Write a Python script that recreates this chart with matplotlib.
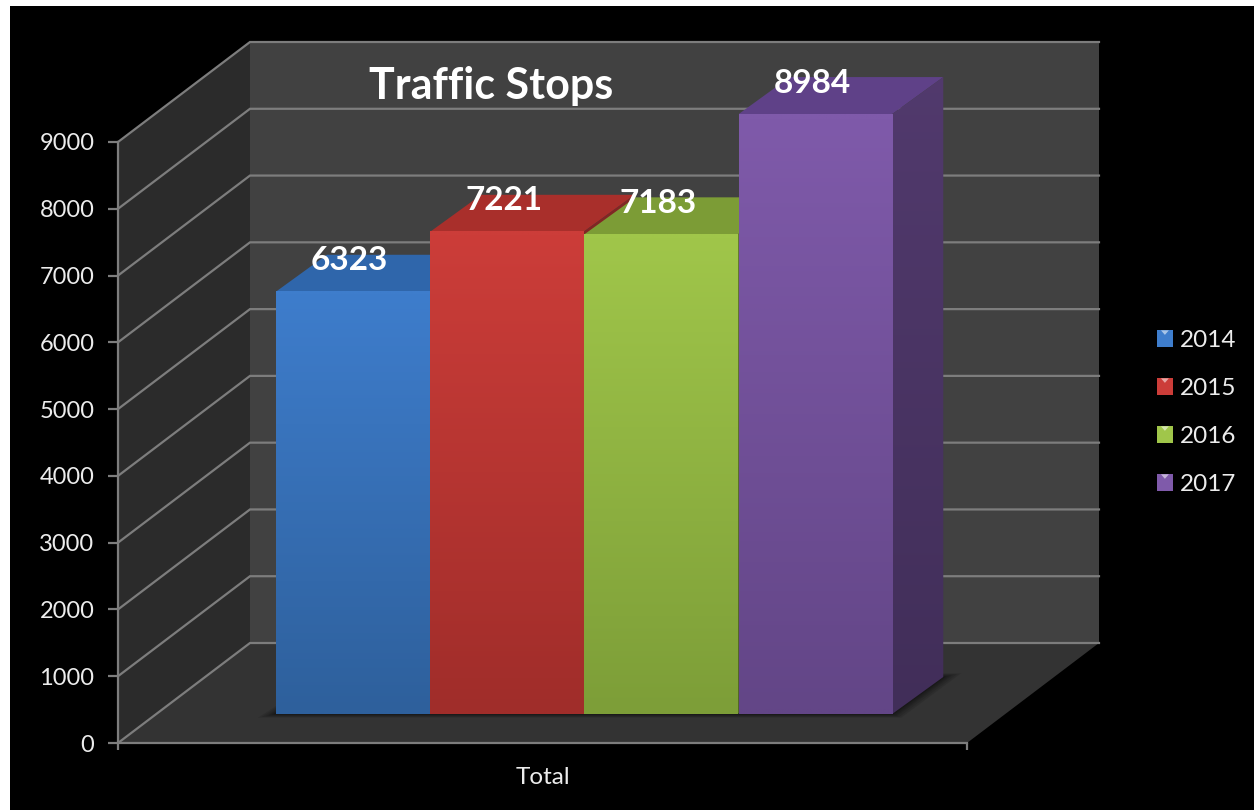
import numpy as np
import matplotlib
matplotlib.use("Agg")
import matplotlib.pyplot as plt
from matplotlib.patches import Polygon, Rectangle, Patch
from matplotlib.legend_handler import HandlerPatch

plt.rcParams['font.family'] = ['Lato', 'DejaVu Sans']

years = ['2014', '2015', '2016', '2017']
stops = [6323, 7221, 7183, 8984]
yticks = [0, 1000, 2000, 3000, 4000, 5000, 6000, 7000, 8000, 9000]
cat_label = 'Total'
title = 'Traffic Stops'

# front / bottom colours of each bar, then the top facet
col_top = ['#3e7dcc', '#cc3d39', '#a0c64a', '#7f5aaa']
col_bot = ['#2e609c', '#a02d2a', '#7d9e38', '#634687']
col_lid = ['#2f66ab', '#a92f2b', '#7c9c36', '#5f4188']

W, H = 1254, 810
L, R, B, T = 118, 967, 743, 142  # front plane, pixels
PX = 1 / 154.3              # x data units per pixel
PY = 9000 / (B - T)         # y data units per pixel
DX, DY = 132 * PX, 100 * PY   # chart depth
d0, d1 = 0.29, 0.66         # bar depth range
XMIN = -1.52
XMAX = XMIN + (R - L) * PX
lift = d0 * DY
bw = 153.5 * PX

wall_side = '#2b2b2b'
wall_back = '#414141'
floor_c = '#333333'
grid_c = '#7d7d7d'
text_c = '#ececec'

fig = plt.figure(figsize=(W / 100, H / 100), dpi=100, facecolor='white')
fig.patches.append(Rectangle((10 / W, 0), 1 - 10 / W, 1 - 6 / H, transform=fig.transFigure,
                             facecolor='black', edgecolor='none', zorder=-10))
ax = fig.add_axes([L / W, 1 - B / H, (R - L) / W, (B - T) / H])
ax.patch.set_visible(False)


def rgb(c):
    return np.array(matplotlib.colors.to_rgb(c))


def grad(c1, c2):
    return np.linspace(rgb(c1), rgb(c2), 64)[:, None, :]


def poly(pts, **kw):
    p = Polygon(pts, closed=True, clip_on=False, linewidth=0, **kw)
    ax.add_patch(p)
    return p


# walls and floor
ymax = yticks[-1]
poly([(XMIN, 0), (XMIN + DX, DY), (XMIN + DX, ymax + DY), (XMIN, ymax)], facecolor=wall_side, zorder=1)
poly([(XMIN + DX, DY), (XMAX + DX, DY), (XMAX + DX, ymax + DY), (XMIN + DX, ymax + DY)],
     facecolor=wall_back, zorder=1)
poly([(XMIN, 0), (XMAX, 0), (XMAX + DX, DY), (XMIN + DX, DY)], facecolor=floor_c, zorder=1)

for v in yticks:
    ax.plot([XMIN, XMIN + DX, XMAX + DX], [v, v + DY, v + DY], color=grid_c, lw=1.6,
            clip_on=False, zorder=2, solid_joinstyle='miter')

# soft shadow under the bars
fx0, fx1 = 0 - bw / 2, 3 + bw / 2
sx, sy = 0.387 * DX, (d1 - d0) * DY
for s in [18, 14, 10, 7, 4, 2]:
    ex, ey = s * PX, 0.7 * s * PY
    poly([(fx0 - ex, lift - ey * 0.3), (fx1 + ex * 0.5, lift - ey * 0.3),
          (fx1 + sx + ex, lift + sy + ey * 0.3), (fx0 + sx, lift + sy + ey * 0.3)],
         facecolor='black', alpha=0.1, zorder=3)

# bars, left to right so each hides the side of the previous one
for i, v in enumerate(stops):
    z = 4 + i
    x0, x1 = i - bw / 2, i + bw / 2
    top = v + lift
    lid = poly([(x0, top), (x1, top), (x1 + sx, top + sy), (x0 + sx, top + sy)],
               facecolor=col_lid[i], zorder=z)
    face = poly([(x1, lift), (x1 + sx, lift + sy), (x1 + sx, top + sy), (x1, top)],
                facecolor='none', zorder=z)
    im = ax.imshow(grad(rgb(col_top[i]) * 0.64, rgb(col_bot[i]) * 0.66), extent=(x1, x1 + sx, lift, top + sy),
                   aspect='auto', zorder=z, interpolation='bilinear')
    im.set_clip_path(face)
    im.set_clip_box(fig.bbox)
    im = ax.imshow(grad(col_top[i], col_bot[i]), extent=(x0, x1, lift, top),
                   aspect='auto', zorder=z + 0.5, interpolation='bilinear')
    im.set_clip_box(fig.bbox)
    ax.annotate(str(v), xy=(i, top), xytext=(-3, 31), textcoords='offset pixels', ha='center', va='center',
                color='white', fontsize=24, fontweight='bold', zorder=20, annotation_clip=False)

ax.set_xlim(XMIN, XMAX)
ax.set_ylim(0, ymax)

for sp in ['top', 'right']:
    ax.spines[sp].set_visible(False)
for sp in ['left', 'bottom']:
    ax.spines[sp].set_color(grid_c)
    ax.spines[sp].set_linewidth(1.6)
    ax.spines[sp].set_zorder(10)

ax.set_yticks(yticks)
ax.tick_params(axis='y', colors=grid_c, labelcolor=text_c, labelsize=17, length=7, width=1.6, pad=10)
ax.set_xticks([XMIN, XMAX], ['', ''])
ax.tick_params(axis='x', which='major', colors=grid_c, length=5, width=1.6)
ax.set_xticks([(XMIN + XMAX) / 2], [cat_label], minor=True)
ax.tick_params(axis='x', which='minor', length=0, labelcolor=text_c, labelsize=17.5, pad=17)

fig.text(491 / W, 1 - 86 / H, title, color='white', fontsize=31, fontweight='bold', ha='center', va='center')


# legend key: small square with a pale notch at the top
class KeyHandler(HandlerPatch):
    def create_artists(self, legend, orig, xd, yd, w, h, fontsize, trans):
        sq = Rectangle((-xd, -yd), w, h, facecolor=orig.get_facecolor(), edgecolor='none', transform=trans)
        tri = Polygon([(-xd + w * 0.25, -yd + h), (-xd + w * 0.75, -yd + h), (-xd + w * 0.5, -yd + h * 0.72)],
                      facecolor='white', alpha=0.55, edgecolor='none', transform=trans)
        return [sq, tri]


handles = [Patch(facecolor=c, label=y) for c, y in zip(col_top, years)]
fig.legend(handles=handles, handler_map={Patch: KeyHandler()}, loc='upper left', frameon=False,
           bbox_to_anchor=(1157 / W, 1 - 330 / H), bbox_transform=fig.transFigure, borderaxespad=0, borderpad=0,
           fontsize=17.5, labelcolor=text_c, handlelength=0.65, handleheight=0.65, handletextpad=0.3,
           labelspacing=1.11)

fig.savefig('out.png', dpi=100, facecolor='white')
